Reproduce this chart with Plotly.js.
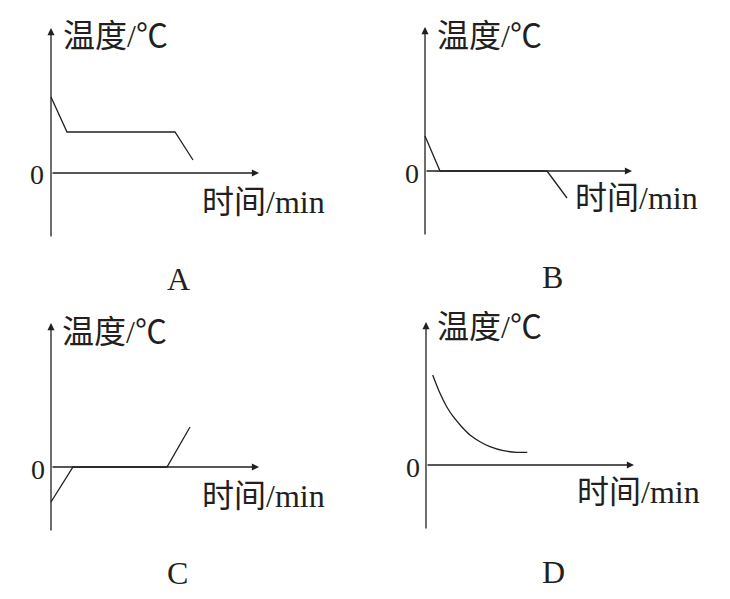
<!DOCTYPE html>
<html><head><meta charset="utf-8">
<script src="https://cdn.plot.ly/plotly-3.0.1.min.js"></script>
<style>html,body{margin:0;padding:0;background:#fff}#c{width:730px;height:599px}</style>
</head><body><div id="c"></div>
<script>
// Data (time in arbitrary min units, temperature in arbitrary ℃ units)
const timeA = [0, 1.6, 12.4, 14.2];
const tempA = [7.6, 4.1, 4.1, 1.3];
const timeB = [0, 1.5, 12.2, 14.2];
const tempB = [3.5, 0, 0, -2.7];
const timeC = [0, 2.2, 11.6, 13.9];
const tempC = [-3.5, 0, 0, 4.0];
const timeD = [0.67, 1.4, 2.07, 2.73, 3.57, 4.4, 5.4, 6.4, 7.73, 9.07, 10.13];
const tempD = [9.0, 7.17, 5.83, 4.83, 3.83, 3.0, 2.33, 1.83, 1.43, 1.27, 1.27];
const panelLabels = ['A', 'B', 'C', 'D'];
const yTitle = '温度/℃';
const xTitle = '时间/min';
const zeroLabel = '0';

const W = 730, H = 599, S = 10; // px per unit
const INK = '#231f20';
const FONT = 'Liberation Serif, Times New Roman, Noto Sans CJK SC, serif';
// panel geometry in pixels: origin, x-arrow tip, y-arrow top, y-axis bottom, text positions
const geo = [
  {ox:51, oy:173, xt:259, yt:28, yb:238, yT:[115,36], xT:[263,202], L:[178,279], Z:[37,175]},
  {ox:425, oy:171, xt:632, yt:27, yb:236, yT:[489,36], xT:[636,198], L:[552,277], Z:[412,174]},
  {ox:51, oy:467, xt:259, yt:323, yb:532, yT:[114,332], xT:[263,496], L:[177,573], Z:[38,469]},
  {ox:426, oy:465, xt:634, yt:322, yb:530, yT:[489,327], xT:[638,492], L:[553,572], Z:[413,467]}
];
const series = [[timeA,tempA,'linear'],[timeB,tempB,'linear'],[timeC,tempC,'linear'],[timeD,tempD,'spline']];

const layout = {width:W, height:H, margin:{l:0,r:0,t:0,b:0}, paper_bgcolor:'#fff', plot_bgcolor:'rgba(0,0,0,0)',
  showlegend:false, annotations:[]};
const traces = [];
const pad = 6;
geo.forEach((g,i)=>{
  const n = i===0 ? '' : String(i+1);
  const xa = 'xaxis'+n, ya = 'yaxis'+n, xr = 'x'+n, yr = 'y'+n;
  const x0 = g.ox-pad, x1 = g.xt+pad, ytop = g.yt-pad, ybot = g.yb+pad;
  layout[xa] = {domain:[x0/W, x1/W], range:[(x0-g.ox)/S, (x1-g.ox)/S], visible:false, fixedrange:true, anchor:yr};
  layout[ya] = {domain:[1-ybot/H, 1-ytop/H], range:[(g.oy-ybot)/S, (g.oy-ytop)/S], visible:false, fixedrange:true, anchor:xr};
  const [tx, ty, shp] = series[i];
  traces.push({x:tx, y:ty, xaxis:xr, yaxis:yr, mode:'lines', line:{color:INK, width:1.3, shape:shp, smoothing:1}, hoverinfo:'skip'});
  // axes with arrows
  const arrow = {showarrow:true, arrowhead:2, arrowsize:1.1, arrowwidth:1.3, arrowcolor:INK, text:'', xref:xr, yref:yr, axref:xr, ayref:yr, standoff:0};
  layout.annotations.push(Object.assign({}, arrow, {x:0, y:(g.oy-g.yt)/S, ax:0, ay:(g.oy-g.yb)/S}));
  layout.annotations.push(Object.assign({}, arrow, {x:(g.xt-g.ox)/S, y:0, ax:0, ay:0}));
  const txt = (t, p, size)=>({text:t, showarrow:false, xref:'paper', yref:'paper', x:p[0]/W, y:1-p[1]/H,
    xanchor:'center', yanchor:'middle', font:{family:FONT, size:size, color:INK}});
  layout.annotations.push(txt(yTitle, g.yT, 32));
  layout.annotations.push(txt(xTitle, g.xT, 32));
  layout.annotations.push(txt(panelLabels[i], g.L, 32));
  layout.annotations.push(txt(zeroLabel, g.Z, 28));
});
Plotly.newPlot('c', traces, layout, {staticPlot:true});
</script></body></html>
